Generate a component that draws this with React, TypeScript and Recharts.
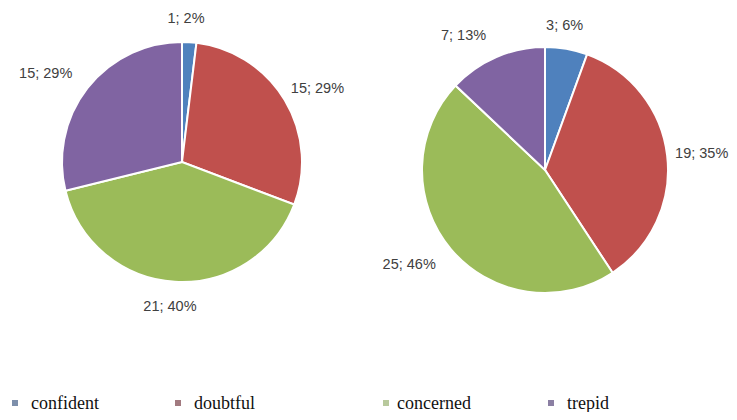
import React from 'react';
import { PieChart, Pie, Cell, Legend } from 'recharts';

const categories = ['confident', 'doubtful', 'concerned', 'trepid'];
const leftValues = [1, 15, 21, 15];
const rightValues = [3, 19, 25, 7];
const colors = ['#4F81BD', '#C0504D', '#9BBB59', '#8064A2'];
const legendColors = ['#7d8fab', '#a27a80', '#b8c99c', '#8b7fa3'];

const leftData = categories.map((name, i) => ({ name, value: leftValues[i] }));
const rightData = categories.map((name, i) => ({ name, value: rightValues[i] }));

const RAD = Math.PI / 180;
const FONT = 14.5;

const makeLabel = (props: any) => {
  const { cx, cy, outerRadius, midAngle, value, percent } = props;
  const text = `${value}; ${Math.round(percent * 100)}%`;
  const cos = Math.cos(-midAngle * RAD);
  const sin = Math.sin(-midAngle * RAD);
  const R = outerRadius + 13;
  let px = cx + R * cos;
  const py = cy + R * sin + sin * 11;
  let anchor: 'start' | 'middle' | 'end' = 'middle';
  if (cos > 0.3) {
    anchor = 'start';
    px -= 5;
  } else if (cos < -0.3) {
    anchor = 'end';
    px -= 5;
  } else {
    px -= 4;
  }
  return (
    <text
      x={px}
      y={py}
      textAnchor={anchor}
      dominantBaseline="central"
      fill="#404040"
      fontSize={FONT}
      fontFamily="'Liberation Sans', Arial, sans-serif"
    >
      {text}
    </text>
  );
};

const legendLefts = [12, 175, 383, 548];

const renderLegend = () => (
  <div style={{ position: 'relative', width: 721, height: 22 }}>
    {categories.map((c, i) => (
      <div
        key={c}
        style={{
          position: 'absolute',
          left: legendLefts[i],
          top: 0,
          display: 'flex',
          alignItems: 'center',
          whiteSpace: 'nowrap',
          lineHeight: '20px',
        }}
      >
        <span
          style={{
            display: 'inline-block',
            width: 6,
            height: 6,
            background: legendColors[i],
            marginRight: i === 2 ? 8 : 13,
          }}
        />
        <span
          style={{
            fontFamily:
              "'Liberation Serif', 'Times New Roman', Tinos, 'DejaVu Serif', 'Noto Serif', FreeSerif, serif",
            fontSize: 18,
            color: '#111111',
          }}
        >
          {c}
        </span>
      </div>
    ))}
  </div>
);

export default function App() {
  return (
    <div style={{ margin: -8, width: 737, height: 420, overflow: 'hidden' }}>
      <PieChart width={737} height={420} margin={{ top: 0, right: 0, bottom: 0, left: 0 }}>
        <Pie
          data={leftData}
          dataKey="value"
          nameKey="name"
          cx={182}
          cy={162}
          outerRadius={120}
          startAngle={90}
          endAngle={-270}
          stroke="#ffffff"
          strokeWidth={2}
          label={makeLabel}
          labelLine={false}
          isAnimationActive={false}
        >
          {leftData.map((d, i) => (
            <Cell key={d.name} fill={colors[i]} />
          ))}
        </Pie>
        <Pie
          data={rightData}
          dataKey="value"
          nameKey="name"
          cx={545}
          cy={170}
          outerRadius={123}
          startAngle={90}
          endAngle={-270}
          stroke="#ffffff"
          strokeWidth={2}
          label={makeLabel}
          labelLine={false}
          isAnimationActive={false}
        >
          {rightData.map((d, i) => (
            <Cell key={d.name} fill={colors[i]} />
          ))}
        </Pie>
        <Legend
          content={renderLegend}
          wrapperStyle={{ position: 'absolute', left: 0, top: 393, width: 721, height: 22 }}
        />
      </PieChart>
    </div>
  );
}
